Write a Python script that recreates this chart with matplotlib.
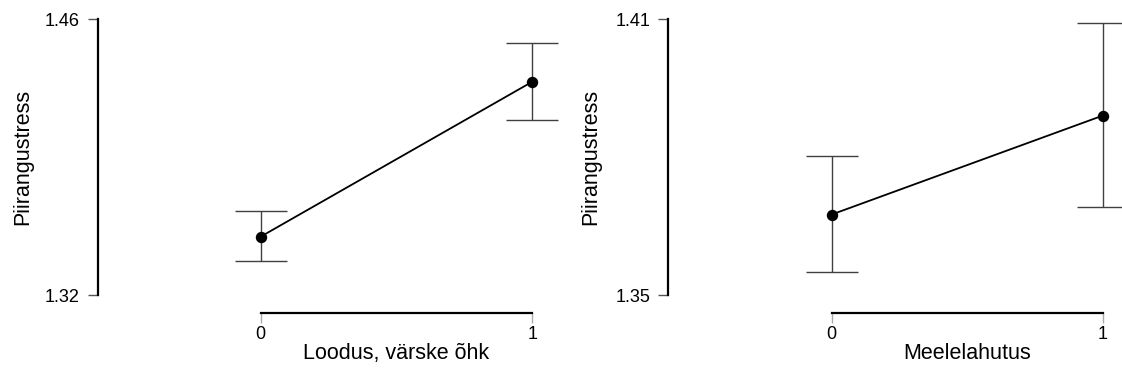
import matplotlib
matplotlib.use("Agg")
import matplotlib.pyplot as plt
import matplotlib.transforms as mtransforms

plt.rcParams["font.family"] = ["Liberation Sans", "DejaVu Sans"]

# Descriptive plots: group means with 95% CI
levels = [0, 1]
tick_labels = ["0", "1"]
y_label = "Piirangustress"

nature_label = "Loodus, värske õhk"
nature_mean = [1.3496, 1.4282]
nature_lower = [1.3372, 1.4088]
nature_upper = [1.3625, 1.4477]
nature_yticks = [1.32, 1.46]

fun_label = "Meelelahutus"
fun_mean = [1.3675, 1.3890]
fun_lower = [1.3551, 1.3691]
fun_upper = [1.3803, 1.4092]
fun_yticks = [1.35, 1.41]

W, H = 1122, 376
fig = plt.figure(figsize=(W / 100, H / 100), dpi=100)


def px_axes(left, right, top, bottom):
    return fig.add_axes([left / W, 1 - bottom / H, (right - left) / W, (bottom - top) / H])


def descriptive(ax, mean, lower, upper, yticks, xlabel, xlim, ylab_x):
    err = [[m - lo for m, lo in zip(mean, lower)], [hi - m for m, hi in zip(mean, upper)]]
    ax.errorbar(levels, mean, yerr=err, fmt="none", ecolor="#404040",
                elinewidth=1.0, capsize=19, capthick=1.0, zorder=2)
    ax.plot(levels, mean, color="black", lw=1.3, zorder=3)
    ax.plot(levels, mean, "o", color="black", ms=7.2, zorder=4)

    ax.set_xlim(*xlim)
    ax.set_ylim(yticks[0], yticks[-1])
    ax.set_yticks(yticks)
    ax.set_yticklabels([f"{v:.2f}" for v in yticks])
    ax.set_xticks(levels)
    ax.set_xticklabels(tick_labels)

    for s in ("top", "right"):
        ax.spines[s].set_visible(False)
    ax.spines["left"].set_bounds(yticks[0], yticks[-1])
    ax.spines["left"].set_linewidth(1.6)
    ax.spines["bottom"].set_bounds(levels[0], levels[-1])
    ax.spines["bottom"].set_linewidth(1.6)
    ax.spines["bottom"].set_position(("outward", 13))

    ax.tick_params(axis="y", length=7, width=1.0, color="#555555", labelsize=13, pad=6)
    ax.tick_params(axis="x", length=7, width=1.0, color="#aaaaaa", labelsize=13, pad=2)

    ax.set_ylabel(y_label, fontsize=15.5)
    ax.yaxis.set_label_coords(ylab_x, 0.5)
    ax.set_xlabel(xlabel, fontsize=15.5)
    trans = mtransforms.blended_transform_factory(ax.transData, ax.transAxes)
    ax.xaxis.set_label_coords(0.5, -0.173, transform=trans)
    ax.patch.set_visible(False)


ax1 = px_axes(98, 559.5, 19, 295)
descriptive(ax1, nature_mean, nature_lower, nature_upper, nature_yticks,
            nature_label, (-0.599, 1.1), -0.141)

ax2 = px_axes(668.3, 1122, 19, 295)
descriptive(ax2, fun_mean, fun_lower, fun_upper, fun_yticks,
            fun_label, (-0.603, 1.071), -0.147)

fig.savefig("out.png", dpi=100, facecolor="white")
